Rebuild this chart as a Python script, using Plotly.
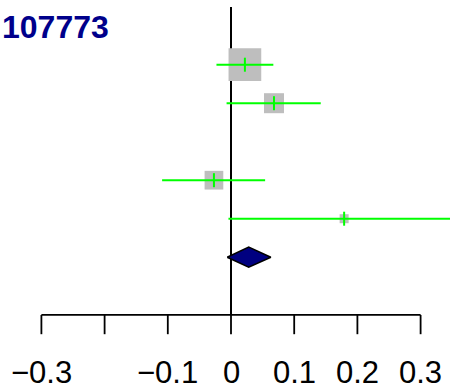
import plotly.graph_objects as go

# ---- data ----
title_text = "107773"
study_rows = [1, 2, 4, 5]
estimates = [0.022, 0.068, -0.027, 0.179]
ci_lower = [-0.023, -0.007, -0.109, -0.004]
ci_upper = [0.067, 0.142, 0.054, 0.36]
weights = [32.7, 20.0, 18.7, 9.0]
summary_row = 6
summary_est = 0.028
summary_lower = -0.006
summary_upper = 0.063
tick_values = [-0.3, -0.2, -0.1, 0.0, 0.1, 0.2, 0.3]
tick_labels = ["\u22120.3", "", "\u22120.1", "0", "0.1", "0.2", "0.3"]

# ---- styles ----
FONT = "Liberation Sans, Arial, sans-serif"
BOX_COLOR = "#BEBEBE"
CI_COLOR = "#00FF00"
AXIS_ROW = 7.5
TICK_END_ROW = 8.0
LABEL_ROW = 9.0
DIAMOND_HALF = 0.26
REF_TOP = -0.5

fig = go.Figure()

# reference (no-effect) vertical line
fig.add_trace(go.Scatter(x=[0, 0], y=[REF_TOP, AXIS_ROW], mode="lines",
                         line=dict(color="black", width=2), hoverinfo="skip"))

# weight boxes
fig.add_trace(go.Scatter(x=estimates, y=study_rows, mode="markers",
                         marker=dict(symbol="square", size=[w * 1.0 for w in weights],
                                     color=BOX_COLOR, opacity=1, line=dict(width=0)),
                         hoverinfo="skip"))

# CI lines
ci_x, ci_y = [], []
for r, lo, hi in zip(study_rows, ci_lower, ci_upper):
    ci_x += [lo, hi, None]
    ci_y += [r, r, None]
fig.add_trace(go.Scatter(x=ci_x, y=ci_y, mode="lines",
                         line=dict(color=CI_COLOR, width=2), hoverinfo="skip"))

# point-estimate ticks
fig.add_trace(go.Scatter(x=estimates, y=study_rows, mode="markers",
                         marker=dict(symbol="line-ns", size=10, opacity=1,
                                     line=dict(color=CI_COLOR, width=2)),
                         hoverinfo="skip"))

# summary diamond
fig.add_trace(go.Scatter(
    x=[summary_lower, summary_est, summary_upper, summary_est, summary_lower],
    y=[summary_row, summary_row - DIAMOND_HALF, summary_row,
       summary_row + DIAMOND_HALF, summary_row],
    mode="lines", fill="toself", fillcolor="#000080",
    line=dict(color="black", width=1.5), hoverinfo="skip"))

# bottom axis: line + ticks
ax_x = [tick_values[0], tick_values[-1], None]
ax_y = [AXIS_ROW, AXIS_ROW, None]
for t in tick_values:
    ax_x += [t, t, None]
    ax_y += [AXIS_ROW, TICK_END_ROW, None]
fig.add_trace(go.Scatter(x=ax_x, y=ax_y, mode="lines",
                         line=dict(color="black", width=1.8), hoverinfo="skip"))

annotations = []
for t, lab in zip(tick_values, tick_labels):
    if lab:
        annotations.append(dict(x=t, y=LABEL_ROW, xref="x", yref="y", text=lab,
                                showarrow=False, xanchor="center", yanchor="middle",
                                font=dict(family=FONT, size=31, color="black")))
annotations.append(dict(x=0, y=1 - 27 / 389, xref="paper", yref="paper",
                        text="<b>" + title_text + "</b>", showarrow=False,
                        xanchor="left", yanchor="middle",
                        font=dict(family=FONT, size=32, color="#00008B")))

fig.update_layout(
    width=450, height=389,
    margin=dict(l=0, r=0, t=0, b=0),
    paper_bgcolor="white", plot_bgcolor="white",
    showlegend=False,
    xaxis=dict(range=[-231 / 632, (450 - 231) / 632], visible=False, fixedrange=True),
    yaxis=dict(range=[1 + (389 - 64.7) / 38.5, 1 - 64.7 / 38.5], visible=False,
               fixedrange=True),
    annotations=annotations,
)

fig.write_html("out.html", config={"displayModeBar": False},
               post_script="document.body.style.margin='0';document.body.style.overflow='hidden';")
